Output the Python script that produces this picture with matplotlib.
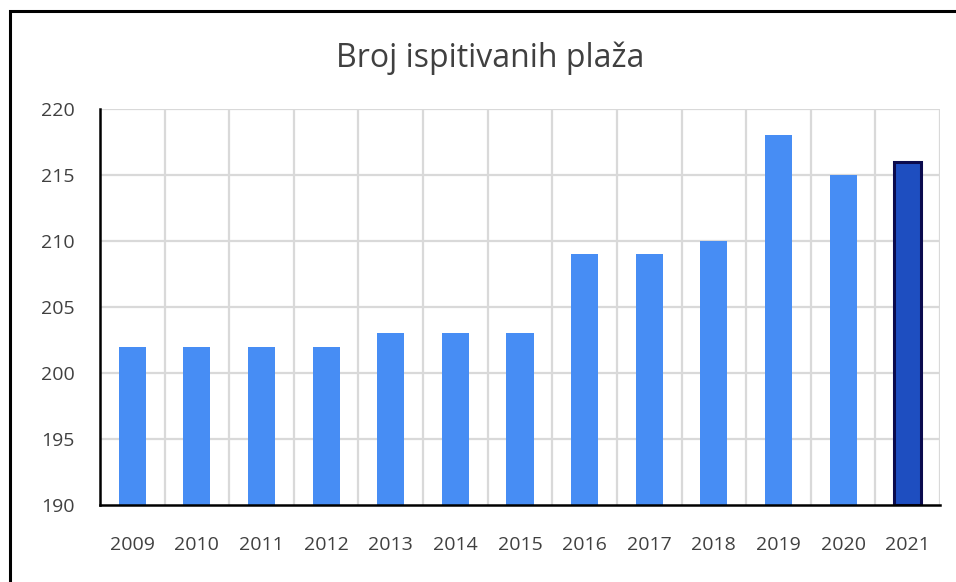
import matplotlib
matplotlib.use("Agg")
import matplotlib.pyplot as plt
from matplotlib.patches import Rectangle

years = ["2009", "2010", "2011", "2012", "2013", "2014", "2015",
         "2016", "2017", "2018", "2019", "2020", "2021"]
beaches = [202, 202, 202, 202, 203, 203, 203, 209, 209, 210, 218, 215, 216]
y_ticks = [190, 195, 200, 205, 210, 215, 220]
title = "Broj ispitivanih plaža"

plt.rcParams['font.family'] = ['Open Sans', 'DejaVu Sans']

W, H = 956, 582
fig = plt.figure(figsize=(W / 100, H / 100), dpi=100)
ax = fig.add_axes([100 / W, (H - 505) / H, 840 / W, 396 / H])

x = list(range(len(years)))
colors = ["#478DF4"] * (len(years) - 1) + ["#1E4EC0"]
edges = ["none"] * (len(years) - 1) + ["#0B0B4E"]
lws = [0] * (len(years) - 1) + [2.2]
ax.bar(x, [v - 190 for v in beaches], bottom=190, width=0.42, color=colors,
       edgecolor=edges, linewidth=lws, zorder=3)

ax.set_xlim(-0.5, len(years) - 0.5)
ax.set_ylim(190, 220)
ax.set_yticks(y_ticks)
ax.set_yticklabels([str(t) for t in y_ticks])
ax.set_xticks(x)
ax.set_xticklabels(years)

# grid: horizontal and vertical at category boundaries
for t in y_ticks[1:]:
    ax.axhline(t, color="#D9D9D9", lw=1.6, zorder=1)
for b in range(1, len(years) + 1):
    ax.axvline(b - 0.5, color="#D9D9D9", lw=1.6, zorder=1)

for s in ["top", "right"]:
    ax.spines[s].set_visible(False)
for s in ["left", "bottom"]:
    ax.spines[s].set_color("black")
    ax.spines[s].set_linewidth(1.8)
    ax.spines[s].set_zorder(4)

ax.tick_params(axis="both", length=0, labelsize=14, colors="#404040")
ax.tick_params(axis="y", pad=18)
ax.tick_params(axis="x", pad=22)

fig.text(490 / W, (H - 58) / H, title, ha="center", va="center",
         fontsize=23, color="#404040")

# outer chart border
fig.patches.append(Rectangle((10 / W, -0.05), 1.2, (H - 11) / H + 0.05,
                             transform=fig.transFigure, fill=False,
                             edgecolor="black", linewidth=2.2))

fig.savefig("out.png", dpi=100)
